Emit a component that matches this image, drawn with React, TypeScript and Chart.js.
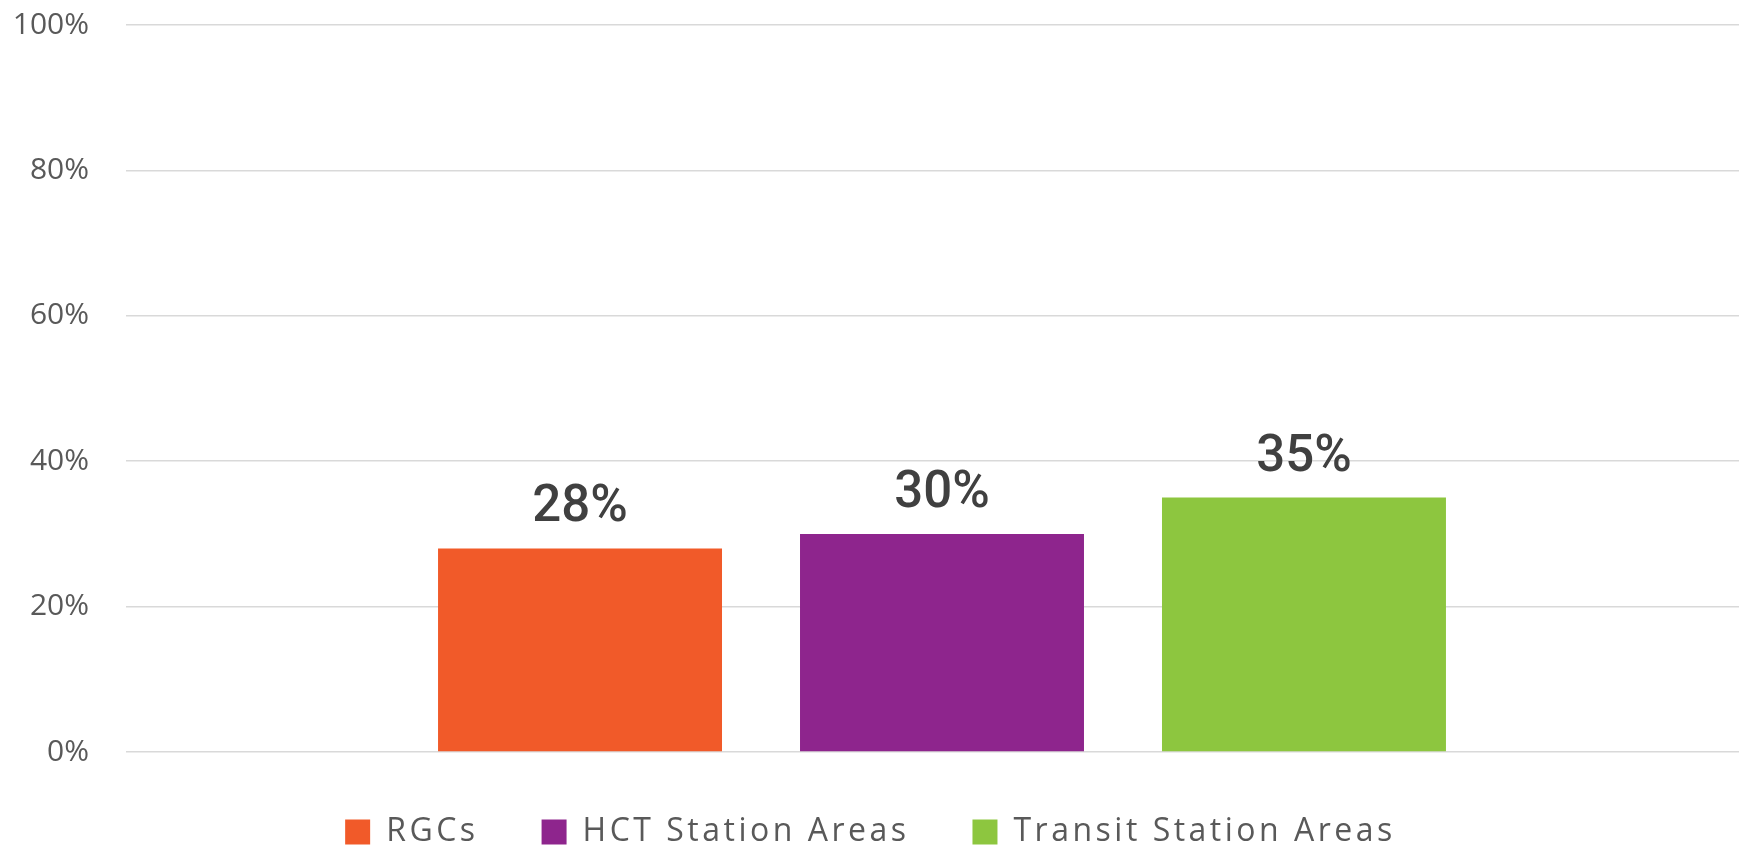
import React, { useEffect, useRef } from 'react';
import { Chart, registerables } from 'chart.js';

Chart.register(...registerables);

// ---- data ----
const categories = [''];
const seriesNames = ['RGCs', 'HCT Station Areas', 'Transit Station Areas'];
const seriesValues = [28, 30, 35];
const seriesColors = ['#F15A29', '#8E258D', '#8DC63F'];
const yTickValues = [0, 20, 40, 60, 80, 100];

// ---- layout constants ----
const SHIFT_X = 17;
const CANVAS_W = 1775;
const CANVAS_H = 860;
const LEGEND_LETTER_SPACING = '3.5px';
const LEGEND_SHIFT_Y = 1;

const dataLabelPlugin = {
  id: 'dataLabels',
  afterDatasetsDraw(chart: any) {
    const ctx = chart.ctx;
    ctx.save();
    ctx.font = '500 51px Roboto';
    ctx.fillStyle = '#404040';
    ctx.textAlign = 'center';
    ctx.textBaseline = 'alphabetic';
    chart.data.datasets.forEach((ds: any, i: number) => {
      const meta = chart.getDatasetMeta(i);
      meta.data.forEach((bar: any, j: number) => {
        const v = ds.data[j];
        ctx.fillText(`${v}%`, bar.x, bar.y - 27);
      });
    });
    ctx.restore();
  },
};

const legendSpacingPlugin = {
  id: 'legendSpacing',
  afterInit(chart: any) {
    const lg = chart.legend;
    if (!lg || lg.__patched) return;
    const wrap = (fn: any, shift: number) =>
      function (this: any, ...args: any[]) {
        const ctx = chart.ctx;
        const prev = ctx.letterSpacing;
        ctx.save();
        ctx.letterSpacing = LEGEND_LETTER_SPACING;
        if (shift) ctx.translate(0, shift);
        try {
          return fn.apply(this, args);
        } finally {
          ctx.restore();
          ctx.letterSpacing = prev;
        }
      };
    lg.fit = wrap(lg.fit, 0);
    lg.draw = wrap(lg.draw, LEGEND_SHIFT_Y);
    lg.__patched = true;
  },
};

export default function App() {
  const ref = useRef<HTMLCanvasElement | null>(null);

  useEffect(() => {
    if (!ref.current) return;
    const chart = new Chart(ref.current, {
      type: 'bar',
      data: {
        labels: categories,
        datasets: seriesNames.map((name, i) => ({
          label: name,
          data: [seriesValues[i]],
          backgroundColor: seriesColors[i],
          borderWidth: 0,
          categoryPercentage: 0.6654,
          barPercentage: 0.7845,
        })),
      },
      options: {
        responsive: false,
        devicePixelRatio: 1,
        animation: false,
        layout: { padding: { top: 25, left: 0, right: 0, bottom: 3 } },
        scales: {
          x: { display: false },
          y: {
            min: 0,
            max: 100,
            afterBuildTicks: (s: any) => {
              s.ticks = yTickValues.map((v) => ({ value: v }));
            },
            afterFit: (s: any) => {
              s.width = 143;
              s.paddingTop = 0;
              s.paddingBottom = 0;
            },
            ticks: {
              padding: 37,
              color: '#595959',
              font: { family: 'Open Sans', size: 30 },
              callback: (v: any) => `${v}%`,
            },
            grid: { color: '#d9d9d9', lineWidth: 1.5, drawTicks: false },
            border: { display: false },
          },
        },
        plugins: {
          tooltip: { enabled: false },
          legend: {
            position: 'bottom',
            labels: {
              boxWidth: 25,
              boxHeight: 25,
              padding: 63,
              color: '#595959',
              font: { family: 'Open Sans', size: 32 },
            },
          },
        },
      },
      plugins: [dataLabelPlugin, legendSpacingPlugin],
    } as any);
    return () => chart.destroy();
  }, []);

  return (
    <div
      style={{
        position: 'fixed',
        left: 0,
        top: 0,
        width: 1739,
        height: 846,
        overflow: 'hidden',
        background: '#ffffff',
      }}
    >
      <canvas
        ref={ref}
        width={CANVAS_W}
        height={CANVAS_H}
        style={{ position: 'absolute', left: -SHIFT_X, top: 0, width: CANVAS_W, height: CANVAS_H }}
      />
    </div>
  );
}
